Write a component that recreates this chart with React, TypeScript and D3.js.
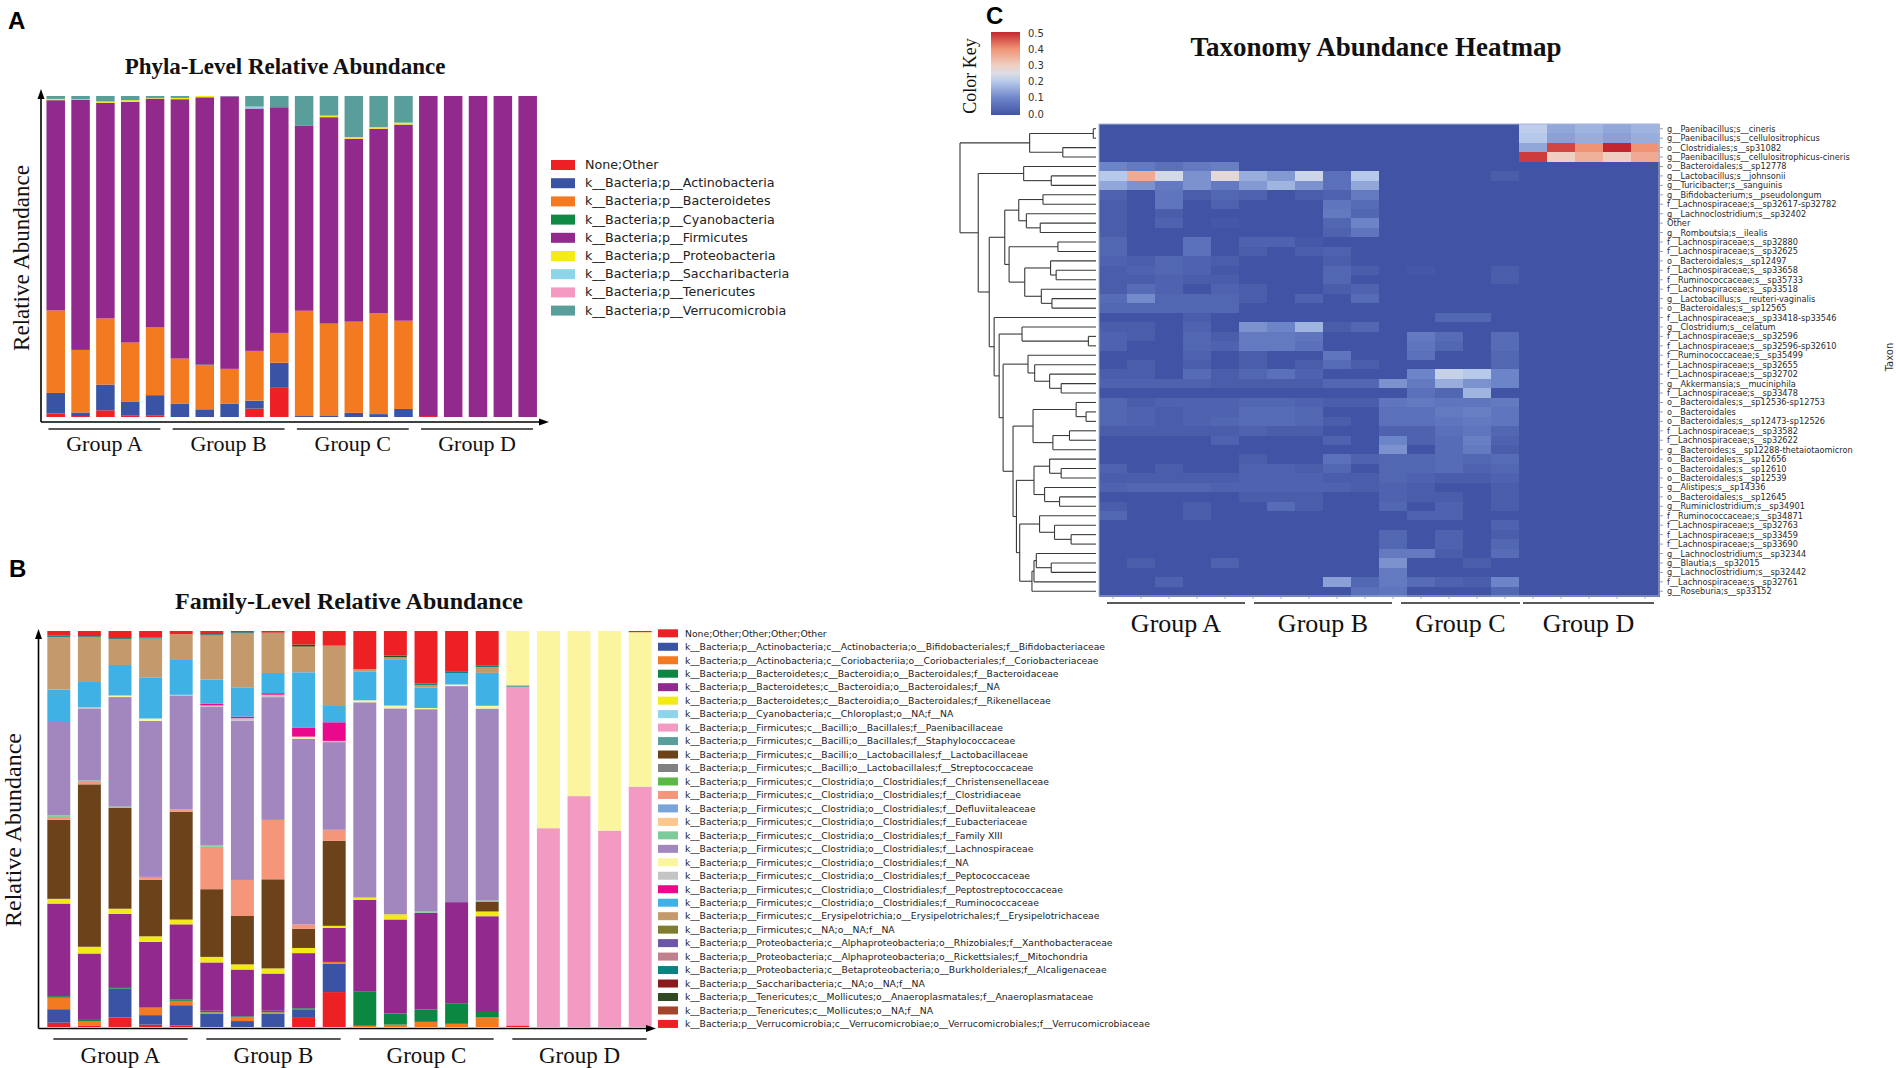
import React from "react";
import * as d3 from "d3";

const W = 1896;
const H = 1068;

// ---------- shared sample/group info ----------
const sampleIds = [
  "A1", "A2", "A3", "A4", "A5",
  "B1", "B2", "B3", "B4", "B5",
  "C1", "C2", "C3", "C4", "C5",
  "D1", "D2", "D3", "D4", "D5",
];
const groupNames = ["Group A", "Group B", "Group C", "Group D"];

// ---------- Panel A: phylum level ----------
const phylumNames = [
  "None;Other",
  "k__Bacteria;p__Actinobacteria",
  "k__Bacteria;p__Bacteroidetes",
  "k__Bacteria;p__Cyanobacteria",
  "k__Bacteria;p__Firmicutes",
  "k__Bacteria;p__Proteobacteria",
  "k__Bacteria;p__Saccharibacteria",
  "k__Bacteria;p__Tenericutes",
  "k__Bacteria;p__Verrucomicrobia",
];
const phylumColors = ["#ed2024", "#3a53a4", "#f37a21", "#0e8a44", "#92298d", "#f5eb17", "#8dd5e8", "#f49ac2", "#5a9e9c"];

const pNoneOther = [0.011, 0.003, 0.021, 0.004, 0.004, 0, 0, 0, 0.026, 0.091, 0, 0, 0, 0, 0, 0.003, 0, 0, 0, 0];
const pActinobacteria = [0.064, 0.011, 0.08, 0.043, 0.064, 0.041, 0.024, 0.041, 0.025, 0.078, 0.003, 0.005, 0.013, 0.009, 0.025, 0, 0, 0, 0, 0];
const pBacteroidetes = [0.257, 0.195, 0.206, 0.185, 0.211, 0.141, 0.137, 0.109, 0.155, 0.093, 0.328, 0.286, 0.284, 0.314, 0.275, 0, 0, 0, 0, 0];
const pCyanobacteria = [0, 0, 0, 0, 0, 0, 0.002, 0, 0, 0, 0, 0, 0, 0, 0, 0, 0, 0, 0, 0];
const pFirmicutes = [0.655, 0.779, 0.672, 0.75, 0.713, 0.808, 0.833, 0.849, 0.755, 0.703, 0.576, 0.643, 0.57, 0.575, 0.611, 0.997, 1, 1, 1, 1];
const pProteobacteria = [0.004, 0, 0.004, 0.005, 0.002, 0.004, 0.004, 0, 0, 0, 0, 0.005, 0.005, 0.005, 0.006, 0, 0, 0, 0, 0];
const pSaccharibacteria = [0, 0.002, 0, 0, 0, 0, 0, 0, 0.006, 0, 0, 0, 0, 0, 0, 0, 0, 0, 0, 0];
const pTenericutes = [0, 0, 0, 0, 0, 0, 0, 0, 0, 0, 0, 0, 0, 0, 0, 0, 0, 0, 0, 0];
const pVerrucomicrobia = [0.009, 0.01, 0.017, 0.013, 0.006, 0.006, 0, 0.001, 0.033, 0.035, 0.093, 0.061, 0.128, 0.097, 0.083, 0, 0, 0, 0, 0];

const phylumSeries = [pNoneOther, pActinobacteria, pBacteroidetes, pCyanobacteria, pFirmicutes, pProteobacteria, pSaccharibacteria, pTenericutes, pVerrucomicrobia];

// ---------- Panel B: family level ----------
const familyNames = [
  "None;Other;Other;Other;Other",
  "k__Bacteria;p__Actinobacteria;c__Actinobacteria;o__Bifidobacteriales;f__Bifidobacteriaceae",
  "k__Bacteria;p__Actinobacteria;c__Coriobacteriia;o__Coriobacteriales;f__Coriobacteriaceae",
  "k__Bacteria;p__Bacteroidetes;c__Bacteroidia;o__Bacteroidales;f__Bacteroidaceae",
  "k__Bacteria;p__Bacteroidetes;c__Bacteroidia;o__Bacteroidales;f__NA",
  "k__Bacteria;p__Bacteroidetes;c__Bacteroidia;o__Bacteroidales;f__Rikenellaceae",
  "k__Bacteria;p__Cyanobacteria;c__Chloroplast;o__NA;f__NA",
  "k__Bacteria;p__Firmicutes;c__Bacilli;o__Bacillales;f__Paenibacillaceae",
  "k__Bacteria;p__Firmicutes;c__Bacilli;o__Bacillales;f__Staphylococcaceae",
  "k__Bacteria;p__Firmicutes;c__Bacilli;o__Lactobacillales;f__Lactobacillaceae",
  "k__Bacteria;p__Firmicutes;c__Bacilli;o__Lactobacillales;f__Streptococcaceae",
  "k__Bacteria;p__Firmicutes;c__Clostridia;o__Clostridiales;f__Christensenellaceae",
  "k__Bacteria;p__Firmicutes;c__Clostridia;o__Clostridiales;f__Clostridiaceae",
  "k__Bacteria;p__Firmicutes;c__Clostridia;o__Clostridiales;f__Defluviitaleaceae",
  "k__Bacteria;p__Firmicutes;c__Clostridia;o__Clostridiales;f__Eubacteriaceae",
  "k__Bacteria;p__Firmicutes;c__Clostridia;o__Clostridiales;f__Family XIII",
  "k__Bacteria;p__Firmicutes;c__Clostridia;o__Clostridiales;f__Lachnospiraceae",
  "k__Bacteria;p__Firmicutes;c__Clostridia;o__Clostridiales;f__NA",
  "k__Bacteria;p__Firmicutes;c__Clostridia;o__Clostridiales;f__Peptococcaceae",
  "k__Bacteria;p__Firmicutes;c__Clostridia;o__Clostridiales;f__Peptostreptococcaceae",
  "k__Bacteria;p__Firmicutes;c__Clostridia;o__Clostridiales;f__Ruminococcaceae",
  "k__Bacteria;p__Firmicutes;c__Erysipelotrichia;o__Erysipelotrichales;f__Erysipelotrichaceae",
  "k__Bacteria;p__Firmicutes;c__NA;o__NA;f__NA",
  "k__Bacteria;p__Proteobacteria;c__Alphaproteobacteria;o__Rhizobiales;f__Xanthobacteraceae",
  "k__Bacteria;p__Proteobacteria;c__Alphaproteobacteria;o__Rickettsiales;f__Mitochondria",
  "k__Bacteria;p__Proteobacteria;c__Betaproteobacteria;o__Burkholderiales;f__Alcaligenaceae",
  "k__Bacteria;p__Saccharibacteria;c__NA;o__NA;f__NA",
  "k__Bacteria;p__Tenericutes;c__Mollicutes;o__Anaeroplasmatales;f__Anaeroplasmataceae",
  "k__Bacteria;p__Tenericutes;c__Mollicutes;o__NA;f__NA",
  "k__Bacteria;p__Verrucomicrobia;c__Verrucomicrobiae;o__Verrucomicrobiales;f__Verrucomicrobiaceae",
];
const familyColors = [
  "#ed2024", "#3a53a4", "#f37a21", "#0c8742", "#92298d", "#f2ea16", "#8dd5e8", "#f29ac1",
  "#5a9e9c", "#6b4219", "#818181", "#5cb947", "#f5967a", "#7aa5da", "#fdc68c", "#7dca9b",
  "#a286be", "#fbf59f", "#c4c4c4", "#ea098d", "#40b1e5", "#c49a6c", "#7f7c2f", "#6c56a5",
  "#c1808d", "#0d8080", "#8a1a1c", "#2f4a1f", "#a2452a", "#ed2024",
];

const fNoneOther = [0.011, 0.004, 0.024, 0.006, 0.004, 0, 0, 0, 0.025, 0.088, 0, 0, 0, 0, 0, 0.004, 0, 0, 0, 0];
const fBifidobacteriaceae = [0.034, 0, 0.073, 0.024, 0.051, 0.034, 0.015, 0.034, 0.019, 0.072, 0, 0, 0, 0, 0, 0, 0, 0, 0, 0];
const fCoriobacteriaceae = [0.029, 0.011, 0, 0.019, 0.011, 0.003, 0.01, 0.003, 0, 0.004, 0.003, 0.006, 0.013, 0.008, 0.024, 0, 0, 0, 0, 0];
const fBacteroidaceae = [0.004, 0.003, 0.004, 0, 0.003, 0.004, 0.002, 0.004, 0.003, 0, 0.086, 0.028, 0.031, 0.052, 0.014, 0, 0, 0, 0, 0];
const fBacteroidalesNA = [0.234, 0.168, 0.185, 0.166, 0.19, 0.122, 0.118, 0.094, 0.139, 0.086, 0.232, 0.237, 0.244, 0.255, 0.242, 0, 0, 0, 0, 0];
const fRikenellaceae = [0.012, 0.017, 0.013, 0.014, 0.012, 0.014, 0.013, 0.013, 0.013, 0.005, 0.006, 0.013, 0, 0, 0.012, 0, 0, 0, 0, 0];
const fChloroplast = [0, 0, 0, 0, 0, 0, 0, 0, 0, 0, 0, 0, 0, 0, 0, 0, 0, 0, 0, 0];
const fPaenibacillaceae = [0, 0, 0, 0, 0, 0, 0, 0, 0, 0, 0, 0, 0, 0, 0, 0.854, 0.502, 0.583, 0.496, 0.607];
const fStaphylococcaceae = [0, 0, 0, 0, 0, 0, 0, 0, 0, 0, 0, 0, 0, 0, 0, 0.004, 0, 0, 0, 0];
const fLactobacillaceae = [0.2, 0.411, 0.255, 0.143, 0.272, 0.171, 0.122, 0.225, 0.048, 0.214, 0, 0, 0, 0, 0.024, 0, 0, 0, 0, 0];
const fStreptococcaceae = [0, 0, 0, 0, 0, 0, 0, 0, 0, 0, 0, 0, 0, 0, 0, 0, 0, 0, 0, 0];
const fChristensenellaceae = [0, 0, 0, 0, 0, 0, 0, 0, 0, 0, 0, 0, 0, 0, 0, 0, 0, 0, 0, 0];
const fClostridiaceae = [0.007, 0.006, 0, 0.007, 0.006, 0.107, 0.091, 0.15, 0.011, 0.028, 0, 0, 0, 0, 0, 0, 0, 0, 0, 0];
const fDefluviitaleaceae = [0, 0, 0, 0, 0, 0, 0, 0, 0, 0, 0, 0, 0, 0, 0, 0, 0, 0, 0, 0];
const fEubacteriaceae = [0, 0, 0, 0, 0, 0, 0, 0, 0, 0, 0, 0, 0, 0, 0, 0, 0, 0, 0, 0];
const fFamilyXIII = [0.004, 0.004, 0.003, 0, 0, 0.004, 0, 0, 0, 0, 0, 0, 0.004, 0, 0.004, 0, 0, 0, 0, 0];
const fLachnospiraceae = [0.236, 0.182, 0.277, 0.394, 0.286, 0.349, 0.402, 0.31, 0.468, 0.221, 0.493, 0.519, 0.509, 0.545, 0.485, 0, 0, 0, 0, 0];
const fClostridialesNA = [0, 0, 0.004, 0.006, 0, 0, 0, 0, 0.005, 0, 0.005, 0.007, 0.003, 0.004, 0.007, 0.137, 0.498, 0.417, 0.504, 0.39];
const fPeptococcaceae = [0, 0.003, 0, 0, 0.003, 0.004, 0.006, 0.006, 0, 0.003, 0, 0, 0, 0, 0, 0, 0, 0, 0, 0];
const fPeptostreptococcaceae = [0, 0, 0, 0, 0, 0.004, 0.004, 0.004, 0.022, 0.047, 0, 0, 0, 0, 0, 0, 0, 0, 0, 0];
const fRuminococcaceae = [0.082, 0.064, 0.077, 0.104, 0.09, 0.061, 0.074, 0.051, 0.14, 0.041, 0.072, 0.117, 0.052, 0.029, 0.083, 0, 0, 0, 0, 0];
const fErysipelotrichaceae = [0.133, 0.114, 0.065, 0.098, 0.063, 0.112, 0.136, 0.1, 0.063, 0.152, 0.007, 0.005, 0.006, 0, 0.015, 0, 0, 0, 0, 0];
const fFirmicutesNA = [0, 0, 0, 0, 0, 0, 0, 0, 0.003, 0, 0, 0, 0, 0, 0, 0, 0, 0, 0, 0];
const fXanthobacteraceae = [0, 0, 0, 0, 0, 0, 0, 0, 0, 0, 0, 0, 0, 0, 0, 0, 0, 0, 0, 0];
const fMitochondria = [0, 0, 0, 0, 0, 0, 0, 0, 0, 0, 0, 0, 0, 0, 0, 0, 0, 0, 0, 0];
const fAlcaligenaceae = [0.003, 0.002, 0.003, 0.003, 0, 0.003, 0.003, 0, 0, 0, 0, 0, 0.004, 0.003, 0.003, 0, 0, 0, 0, 0];
const fSaccharibacteria = [0, 0, 0, 0, 0, 0, 0, 0, 0, 0, 0, 0, 0, 0, 0, 0, 0, 0, 0, 0];
const fAnaeroplasmataceae = [0, 0, 0, 0, 0, 0, 0, 0, 0.004, 0, 0, 0.004, 0, 0, 0, 0, 0, 0, 0, 0];
const fTenericutesNA = [0, 0, 0, 0, 0, 0, 0, 0.002, 0, 0, 0, 0, 0, 0, 0, 0, 0, 0, 0, 0];
const fVerrucomicrobiaceae = [0.012, 0.013, 0.018, 0.016, 0.008, 0.008, 0.003, 0.004, 0.034, 0.037, 0.096, 0.062, 0.132, 0.103, 0.088, 0, 0, 0, 0, 0.003];

const familySeries = [
  fNoneOther, fBifidobacteriaceae, fCoriobacteriaceae, fBacteroidaceae, fBacteroidalesNA, fRikenellaceae,
  fChloroplast, fPaenibacillaceae, fStaphylococcaceae, fLactobacillaceae, fStreptococcaceae,
  fChristensenellaceae, fClostridiaceae, fDefluviitaleaceae, fEubacteriaceae, fFamilyXIII,
  fLachnospiraceae, fClostridialesNA, fPeptococcaceae, fPeptostreptococcaceae, fRuminococcaceae,
  fErysipelotrichaceae, fFirmicutesNA, fXanthobacteraceae, fMitochondria, fAlcaligenaceae,
  fSaccharibacteria, fAnaeroplasmataceae, fTenericutesNA, fVerrucomicrobiaceae,
];

// ---------- Panel C: heatmap ----------
const taxa = [
  "g__Paenibacillus;s__cineris",
  "g__Paenibacillus;s__cellulositrophicus",
  "o__Clostridiales;s__sp31082",
  "g__Paenibacillus;s__cellulositrophicus-cineris",
  "o__Bacteroidales;s__sp12778",
  "g__Lactobacillus;s__johnsonii",
  "g__Turicibacter;s__sanguinis",
  "g__Bifidobacterium;s__pseudolongum",
  "f__Lachnospiraceae;s__sp32617-sp32782",
  "g__Lachnoclostridium;s__sp32402",
  "Other",
  "g__Romboutsia;s__ilealis",
  "f__Lachnospiraceae;s__sp32880",
  "f__Lachnospiraceae;s__sp32625",
  "o__Bacteroidales;s__sp12497",
  "f__Lachnospiraceae;s__sp33658",
  "f__Ruminococcaceae;s__sp35733",
  "f__Lachnospiraceae;s__sp33518",
  "g__Lactobacillus;s__reuteri-vaginalis",
  "o__Bacteroidales;s__sp12565",
  "f__Lachnospiraceae;s__sp33418-sp33546",
  "g__Clostridium;s__celatum",
  "f__Lachnospiraceae;s__sp32596",
  "f__Lachnospiraceae;s__sp32596-sp32610",
  "f__Ruminococcaceae;s__sp35499",
  "f__Lachnospiraceae;s__sp32655",
  "f__Lachnospiraceae;s__sp32702",
  "g__Akkermansia;s__muciniphila",
  "f__Lachnospiraceae;s__sp33478",
  "o__Bacteroidales;s__sp12536-sp12753",
  "o__Bacteroidales",
  "o__Bacteroidales;s__sp12473-sp12526",
  "f__Lachnospiraceae;s__sp33582",
  "f__Lachnospiraceae;s__sp32622",
  "g__Bacteroides;s__sp12288-thetaiotaomicron",
  "o__Bacteroidales;s__sp12656",
  "o__Bacteroidales;s__sp12610",
  "o__Bacteroidales;s__sp12539",
  "g__Alistipes;s__sp14336",
  "o__Bacteroidales;s__sp12645",
  "g__Ruminiclostridium;s__sp34901",
  "f__Ruminococcaceae;s__sp34871",
  "f__Lachnospiraceae;s__sp32763",
  "f__Lachnospiraceae;s__sp33459",
  "f__Lachnospiraceae;s__sp33690",
  "g__Lachnoclostridium;s__sp32344",
  "g__Blautia;s__sp32015",
  "g__Lachnoclostridium;s__sp32442",
  "f__Lachnospiraceae;s__sp32761",
  "g__Roseburia;s__sp33152",
];

// one row per taxon, 20 samples (A1..D5)
const heatValues = [
  [0, 0, 0, 0, 0, 0, 0, 0, 0, 0, 0, 0, 0, 0, 0, 0.21, 0.15, 0.17, 0.15, 0.17],
  [0, 0, 0, 0, 0, 0, 0, 0, 0, 0, 0, 0, 0, 0, 0, 0.2, 0.14, 0.16, 0.14, 0.16],
  [0, 0, 0, 0, 0, 0, 0, 0, 0, 0, 0, 0, 0, 0, 0, 0.15, 0.47, 0.4, 0.5, 0.4],
  [0, 0, 0, 0, 0, 0, 0, 0, 0, 0, 0, 0, 0, 0, 0, 0.48, 0.3, 0.35, 0.3, 0.36],
  [0.1, 0.08, 0.06, 0.08, 0.09, 0, 0, 0, 0, 0, 0, 0, 0, 0, 0, 0, 0, 0, 0, 0],
  [0.2, 0.36, 0.24, 0.12, 0.27, 0.16, 0.13, 0.23, 0.06, 0.2, 0, 0, 0, 0, 0.02, 0, 0, 0, 0, 0],
  [0.15, 0.12, 0.08, 0.12, 0.08, 0.13, 0.17, 0.12, 0.06, 0.15, 0, 0, 0, 0, 0, 0, 0, 0, 0, 0],
  [0.03, 0, 0.07, 0.02, 0.04, 0.03, 0, 0.02, 0.03, 0.08, 0, 0, 0, 0, 0, 0, 0, 0, 0, 0],
  [0.02, 0, 0.07, 0, 0.03, 0, 0, 0, 0.07, 0.05, 0, 0, 0, 0, 0, 0, 0, 0, 0, 0],
  [0.02, 0, 0.02, 0, 0, 0, 0, 0, 0.08, 0.04, 0, 0, 0, 0, 0, 0, 0, 0, 0, 0],
  [0.02, 0, 0.03, 0, 0.01, 0, 0, 0, 0.04, 0.1, 0, 0, 0, 0, 0, 0, 0, 0, 0, 0],
  [0.02, 0, 0, 0, 0, 0, 0, 0, 0.03, 0.07, 0, 0, 0, 0, 0, 0, 0, 0, 0, 0],
  [0.04, 0, 0, 0.06, 0, 0.03, 0.03, 0.01, 0, 0, 0, 0, 0, 0, 0, 0, 0, 0, 0, 0],
  [0.04, 0, 0, 0.06, 0, 0.02, 0, 0.02, 0.03, 0, 0, 0, 0, 0, 0, 0, 0, 0, 0, 0],
  [0.03, 0.02, 0.04, 0.03, 0.02, 0, 0, 0, 0.02, 0, 0, 0, 0, 0, 0, 0, 0, 0, 0, 0],
  [0.02, 0.03, 0.04, 0.03, 0.01, 0, 0, 0, 0.04, 0.02, 0, 0.01, 0, 0, 0.02, 0, 0, 0, 0, 0],
  [0.02, 0.02, 0.03, 0.02, 0.02, 0, 0, 0, 0.04, 0, 0, 0, 0, 0, 0.02, 0, 0, 0, 0, 0],
  [0.02, 0.05, 0.03, 0, 0.03, 0.02, 0, 0, 0.02, 0.03, 0, 0, 0, 0, 0, 0, 0, 0, 0, 0],
  [0.05, 0.11, 0.04, 0.04, 0.04, 0.02, 0, 0.03, 0, 0.05, 0, 0, 0, 0, 0, 0, 0, 0, 0, 0],
  [0.04, 0.04, 0.04, 0.04, 0.04, 0, 0, 0, 0, 0, 0, 0, 0, 0, 0, 0, 0, 0, 0, 0],
  [0, 0, 0, 0.02, 0, 0, 0, 0, 0, 0, 0, 0, 0.04, 0.04, 0, 0, 0, 0, 0, 0],
  [0.02, 0.02, 0, 0.03, 0, 0.12, 0.1, 0.17, 0.02, 0.04, 0, 0, 0, 0, 0, 0, 0, 0, 0, 0],
  [0.03, 0.02, 0, 0.04, 0.02, 0.08, 0.08, 0.07, 0, 0, 0, 0.08, 0.05, 0, 0.05, 0, 0, 0, 0, 0],
  [0.03, 0, 0, 0.04, 0.03, 0.08, 0.08, 0.06, 0, 0, 0, 0.07, 0.04, 0, 0.05, 0, 0, 0, 0, 0],
  [0, 0, 0, 0.03, 0, 0.02, 0, 0, 0.07, 0, 0, 0.06, 0, 0, 0.04, 0, 0, 0, 0, 0],
  [0, 0.02, 0, 0.02, 0, 0.02, 0, 0.02, 0.05, 0.02, 0, 0, 0, 0, 0.04, 0, 0, 0, 0, 0],
  [0.02, 0.02, 0, 0.05, 0.02, 0.04, 0.06, 0.03, 0, 0, 0, 0.1, 0.22, 0.2, 0.1, 0, 0, 0, 0, 0],
  [0.03, 0.03, 0.03, 0.03, 0.02, 0.02, 0.02, 0.02, 0.04, 0.04, 0.12, 0.08, 0.16, 0.12, 0.1, 0, 0, 0, 0, 0],
  [0, 0, 0, 0, 0, 0, 0, 0, 0, 0, 0, 0.06, 0.04, 0.17, 0, 0, 0, 0, 0, 0],
  [0.04, 0.02, 0.03, 0.03, 0.03, 0.04, 0.04, 0.03, 0.02, 0.02, 0.07, 0.08, 0.07, 0.07, 0.08, 0, 0, 0, 0, 0],
  [0.04, 0.03, 0.02, 0.03, 0.03, 0.05, 0.05, 0.04, 0, 0, 0.06, 0.06, 0.08, 0.09, 0.07, 0, 0, 0, 0, 0],
  [0.04, 0.03, 0.02, 0.03, 0.04, 0.05, 0.05, 0.04, 0.02, 0, 0.06, 0.06, 0.07, 0.08, 0.07, 0, 0, 0, 0, 0],
  [0.02, 0.02, 0.02, 0.02, 0.02, 0.03, 0.02, 0.02, 0, 0, 0.03, 0.03, 0.06, 0.07, 0.04, 0, 0, 0, 0, 0],
  [0, 0, 0, 0, 0.03, 0, 0, 0, 0.03, 0, 0.1, 0.03, 0.05, 0.09, 0.03, 0, 0, 0, 0, 0],
  [0, 0, 0, 0, 0, 0, 0, 0, 0, 0, 0.12, 0, 0.05, 0.08, 0.02, 0, 0, 0, 0, 0],
  [0, 0, 0, 0, 0, 0.02, 0, 0, 0.06, 0.03, 0.04, 0.04, 0.05, 0.04, 0.05, 0, 0, 0, 0, 0],
  [0.03, 0, 0.02, 0, 0, 0.03, 0.03, 0.02, 0.04, 0, 0.04, 0.04, 0.05, 0.03, 0.04, 0, 0, 0, 0, 0],
  [0.02, 0.02, 0.02, 0.02, 0.02, 0.03, 0.03, 0.03, 0.02, 0.02, 0.04, 0.03, 0.02, 0.02, 0.03, 0, 0, 0, 0, 0],
  [0.03, 0.04, 0.04, 0.04, 0.03, 0.03, 0.03, 0.03, 0.03, 0.02, 0.03, 0.02, 0, 0, 0.02, 0, 0, 0, 0, 0],
  [0, 0, 0, 0, 0, 0.02, 0.02, 0.02, 0, 0, 0.03, 0.02, 0.02, 0, 0.02, 0, 0, 0, 0, 0],
  [0.02, 0, 0, 0.02, 0, 0, 0.05, 0.02, 0, 0, 0.04, 0, 0.03, 0, 0.02, 0, 0, 0, 0, 0],
  [0.04, 0, 0, 0.02, 0, 0, 0, 0, 0, 0, 0, 0.03, 0.03, 0, 0, 0, 0, 0, 0, 0],
  [0, 0, 0, 0, 0, 0, 0, 0, 0, 0, 0, 0, 0, 0, 0.03, 0, 0, 0, 0, 0],
  [0, 0, 0, 0, 0, 0, 0, 0, 0, 0, 0.04, 0, 0.03, 0, 0.02, 0, 0, 0, 0, 0],
  [0, 0, 0, 0, 0, 0, 0, 0, 0, 0, 0.04, 0, 0.03, 0, 0.04, 0, 0, 0, 0, 0],
  [0, 0, 0, 0, 0, 0, 0, 0, 0, 0, 0.08, 0.08, 0.02, 0, 0.05, 0, 0, 0, 0, 0],
  [0, 0.02, 0, 0, 0.03, 0, 0, 0, 0, 0, 0.12, 0, 0, 0.02, 0, 0, 0, 0, 0, 0],
  [0, 0, 0, 0, 0, 0, 0, 0, 0, 0, 0.08, 0, 0, 0, 0, 0, 0, 0, 0, 0],
  [0, 0, 0.03, 0, 0, 0, 0, 0, 0.14, 0.04, 0.08, 0.05, 0.03, 0.02, 0.1, 0, 0, 0, 0, 0],
  [0, 0, 0, 0, 0, 0, 0, 0, 0, 0.06, 0.07, 0, 0, 0, 0.04, 0, 0, 0, 0, 0],
];

const colorKeyTicks = [0.0, 0.1, 0.2, 0.3, 0.4, 0.5];
const colorStops = [0, 0.1, 0.2, 0.25, 0.3, 0.4, 0.5];
const colorStopColors = ["#4153a4", "#6c84c8", "#b6c9ea", "#dcdde6", "#efcfc2", "#f09274", "#c3262e"];

// Row dendrogram: leaves are taxon indices, internal nodes are [left, right, height]
type DNode = number | [DNode, DNode, number];
const rowTree: DNode = [
  [[0, 1, 0.02], [2, 3, 0.244], 0.488],
  [
    [4, [5, 6, 0.329], 0.532],
    [
      [
        [[7, 8, 0.39], [9, [10, 11, 0.41], 0.512], 0.568],
        [[12, 13, 0.28], [[14, [15, 16, 0.293], 0.334], [17, [18, 19, 0.324], 0.402], 0.524], 0.639],
        0.671,
      ],
      [
        20,
        [
          [21, [22, 23, 0.056], 0.544],
          [
            [24, [25, [26, [27, 28, 0.256], 0.341], 0.451], 0.5],
            [
              [[29, [30, 31, 0.073], 0.146], [[32, 33, 0.195], 34, 0.317], 0.463],
              [
                [[35, [36, 37, 0.256], 0.341], [38, [39, 40, 0.268], 0.378], 0.456],
                [[41, [42, [43, 44, 0.183], 0.305], 0.415], [[[45, [46, 47, 0.329], 0.439], 48, 0.456], 49, 0.471], 0.561],
                0.585,
              ],
              0.61,
            ],
            0.683,
          ],
          0.712,
        ],
        0.749,
      ],
      0.785,
    ],
    0.866,
  ],
  1.0,
];

const SERIF = "'Liberation Serif', 'Times New Roman', serif";
const SANS = "'DejaVu Sans', sans-serif";
const BOLD_SANS = "'Liberation Sans', Arial, sans-serif";

function makeTable(series: number[][]) {
  return sampleIds.map((s, i) => {
    const row: any = { sample: s };
    series.forEach((arr, k) => {
      row[String(k)] = arr[i];
    });
    return row;
  });
}

function StackedBars({ series, colors, x, y }: any) {
  const keys = series.map((_: any, k: number) => String(k));
  const stacked = d3.stack<any>().keys(keys).offset(d3.stackOffsetExpand)(makeTable(series));
  return (
    <g>
      {stacked.map((layer, k) => (
        <g key={k} fill={colors[k]}>
          {layer.map((d) => {
            const h = y(d[0]) - y(d[1]);
            if (h <= 0.01) return null;
            return (
              <rect
                key={d.data.sample}
                x={x(d.data.sample)}
                y={y(d[1])}
                width={x.bandwidth()}
                height={h}
              />
            );
          })}
        </g>
      ))}
    </g>
  );
}

// insets: per group [left inset, right inset] in px, relative to group's band extent
function GroupAxis({ x, lineY, textY, insets, fontSize }: any) {
  return (
    <g>
      {groupNames.map((g, gi) => {
        const first = sampleIds[gi * 5];
        const last = sampleIds[gi * 5 + 4];
        const x0 = x(first) + insets[gi][0];
        const x1 = x(last) + x.bandwidth() - insets[gi][1];
        return (
          <g key={g}>
            <line x1={x0} x2={x1} y1={lineY} y2={lineY} stroke="#222" strokeWidth={1.3} />
            <text x={(x0 + x1) / 2} y={textY} textAnchor="middle" fontFamily={SERIF} fontSize={fontSize} fill="#111">
              {g}
            </text>
          </g>
        );
      })}
    </g>
  );
}

export default function App() {
  // ---------- Panel A scales ----------
  const xA = d3.scaleBand<string>().domain(sampleIds).range([43.3, 540.1]).paddingInner(0.255).paddingOuter(0.1275);
  const yA = d3.scaleLinear().domain([0, 1]).range([417, 96]);

  // ---------- Panel B scales ----------
  const xB = d3.scaleBand<string>().domain(sampleIds).range([43.5, 655.5]).paddingInner(0.25).paddingOuter(0.125);
  const yB = d3.scaleLinear().domain([0, 1]).range([1027, 631]);

  // ---------- Panel C scales ----------
  const xH = d3.scaleBand<string>().domain(sampleIds).range([1099, 1659]);
  const yH = d3.scaleBand<string>().domain(taxa).range([124, 596]);
  const heatColor = d3.scaleLinear<string>().domain(colorStops).range(colorStopColors).clamp(true);
  const xDen = d3.scaleLinear().domain([0, 1]).range([1096, 960]);
  const keyY = d3.scaleLinear().domain([0, 0.5]).range([114, 33]);

  // dendrogram segments
  const segs: [number, number, number, number][] = [];
  function layout(node: DNode): { x: number; y: number } {
    if (typeof node === "number") {
      return { x: xDen(0), y: (yH(taxa[node]) as number) + yH.bandwidth() / 2 };
    }
    const a = layout(node[0]);
    const b = layout(node[1]);
    const xp = xDen(node[2]);
    segs.push([xp, a.y, xp, b.y]);
    segs.push([xp, a.y, a.x, a.y]);
    segs.push([xp, b.y, b.x, b.y]);
    return { x: xp, y: (a.y + b.y) / 2 };
  }
  layout(rowTree);

  const legendAy = d3.scaleLinear().domain([0, 1]).range([165, 183.2]);
  const legendBy = d3.scaleLinear().domain([0, 1]).range([633.3, 646.77]);

  return (
    <svg
      width={W}
      height={H}
      viewBox={`0 0 ${W} ${H}`}
      style={{ position: "absolute", left: 0, top: 0, background: "#ffffff" }}
    >
      <rect x={0} y={0} width={W} height={H} fill="#ffffff" />

      {/* ================= Panel A ================= */}
      <text x={8} y={29} fontFamily={BOLD_SANS} fontWeight="bold" fontSize={24} fill="#000">A</text>
      <text x={285} y={74} textAnchor="middle" fontFamily={SERIF} fontWeight="bold" fontSize={23} fill="#111">
        Phyla-Level Relative Abundance
      </text>
      <text
        transform="translate(29,258) rotate(-90)"
        textAnchor="middle"
        fontFamily={SERIF}
        fontSize={23}
        fill="#111"
      >
        Relative Abundance
      </text>
      <StackedBars series={phylumSeries} colors={phylumColors} x={xA} y={yA} />
      <line x1={41} y1={422} x2={41} y2={98} stroke="#000" strokeWidth={1.6} />
      <path d="M41,89 L37.5,99 L44.5,99 Z" fill="#000" />
      <line x1={41} y1={422} x2={540} y2={422} stroke="#000" strokeWidth={1.6} />
      <path d="M549,422 L539,418.5 L539,425.5 Z" fill="#000" />
      <GroupAxis x={xA} lineY={429} textY={451} insets={[[2, 4], [2, 4], [2, 4], [2, 4]]} fontSize={22} />
      {phylumNames.map((n, i) => (
        <g key={n}>
          <rect x={551} y={legendAy(i) - 5} width={24} height={10} fill={phylumColors[i]} />
          <text x={585} y={legendAy(i) + 4} fontFamily={SANS} fontSize={12.7} fill="#222">{n}</text>
        </g>
      ))}

      {/* ================= Panel B ================= */}
      <text x={9} y={577} fontFamily={BOLD_SANS} fontWeight="bold" fontSize={24} fill="#000">B</text>
      <text x={349} y={609} textAnchor="middle" fontFamily={SERIF} fontWeight="bold" fontSize={24} fill="#111">
        Family-Level Relative Abundance
      </text>
      <text
        transform="translate(21,830) rotate(-90)"
        textAnchor="middle"
        fontFamily={SERIF}
        fontSize={24}
        fill="#111"
      >
        Relative Abundance
      </text>
      <StackedBars series={familySeries} colors={familyColors} x={xB} y={yB} />
      <line x1={38.5} y1={1028.5} x2={38.5} y2={638} stroke="#000" strokeWidth={1.6} />
      <path d="M38.5,629 L35,639 L42,639 Z" fill="#000" />
      <line x1={38.5} y1={1028.5} x2={647} y2={1028.5} stroke="#000" strokeWidth={1.6} />
      <path d="M656,1028.5 L646,1025 L646,1032 Z" fill="#000" />
      <GroupAxis x={xB} lineY={1039} textY={1063} insets={[[6, 5], [6, 5], [6, 5], [6, 5]]} fontSize={23} />
      {familyNames.map((n, i) => (
        <g key={i}>
          <rect x={658} y={legendBy(i) - 4} width={20} height={8} fill={familyColors[i]} />
          <text x={685} y={legendBy(i) + 3.3} fontFamily={SANS} fontSize={9.25} fill="#222">{n}</text>
        </g>
      ))}

      {/* ================= Panel C ================= */}
      <text x={986} y={24} fontFamily={BOLD_SANS} fontWeight="bold" fontSize={24} fill="#000">C</text>
      <text x={1376} y={56} textAnchor="middle" fontFamily={SERIF} fontWeight="bold" fontSize={27} fill="#111">
        Taxonomy Abundance Heatmap
      </text>

      {/* color key */}
      <defs>
        <linearGradient id="ckey" x1="0" y1="1" x2="0" y2="0">
          {colorStops.map((s, i) => (
            <stop key={i} offset={s / 0.5} stopColor={colorStopColors[i]} />
          ))}
        </linearGradient>
      </defs>
      <text
        transform="translate(976,76) rotate(-90)"
        textAnchor="middle"
        fontFamily={SERIF}
        fontSize={18}
        fill="#111"
      >
        Color Key
      </text>
      <rect x={991} y={keyY(0.5) - 1} width={29} height={keyY(0) - keyY(0.5) + 2} fill="url(#ckey)" />
      {colorKeyTicks.map((t) => (
        <text key={t} x={1028} y={keyY(t) + 3.5} fontFamily={SANS} fontSize={10} fill="#333">
          {t.toFixed(1)}
        </text>
      ))}

      {/* dendrogram */}
      <g stroke="#3a3a3a" strokeWidth={1.1} fill="none">
        {segs.map((s, i) => (
          <line key={i} x1={s[0]} y1={s[1]} x2={s[2]} y2={s[3]} />
        ))}
      </g>

      {/* heatmap cells */}
      <g shapeRendering="crispEdges">
        {heatValues.map((row, ri) =>
          row.map((v, ci) => (
            <rect
              key={`${ri}-${ci}`}
              x={xH(sampleIds[ci])}
              y={yH(taxa[ri])}
              width={xH.bandwidth() + 0.5}
              height={yH.bandwidth() + 0.5}
              fill={heatColor(v)}
            />
          ))
        )}
      </g>
      <rect x={1099} y={124} width={560} height={472} fill="none" stroke="#a9b6da" strokeWidth={1} />

      {/* row ticks and labels */}
      {taxa.map((t) => {
        const yc = (yH(t) as number) + yH.bandwidth() / 2;
        return (
          <g key={t}>
            <line x1={1660} x2={1663} y1={yc} y2={yc} stroke="#888" strokeWidth={0.8} />
            <text x={1667} y={yc + 3} fontFamily={SANS} fontSize={8.2} fill="#2a2a2a">{t}</text>
          </g>
        );
      })}
      {/* column ticks */}
      {sampleIds.map((s) => {
        const xc = (xH(s) as number) + xH.bandwidth() / 2;
        return <line key={s} x1={xc} x2={xc} y1={596} y2={599} stroke="#999" strokeWidth={0.8} />;
      })}
      <text
        transform="translate(1893,357) rotate(-90)"
        textAnchor="middle"
        fontFamily={SANS}
        fontSize={10}
        fill="#333"
      >
        Taxon
      </text>
      <GroupAxis x={xH} lineY={603} textY={632} insets={[[8, -6], [15, -13], [22, -1], [4, 5]]} fontSize={26} />
    </svg>
  );
}
